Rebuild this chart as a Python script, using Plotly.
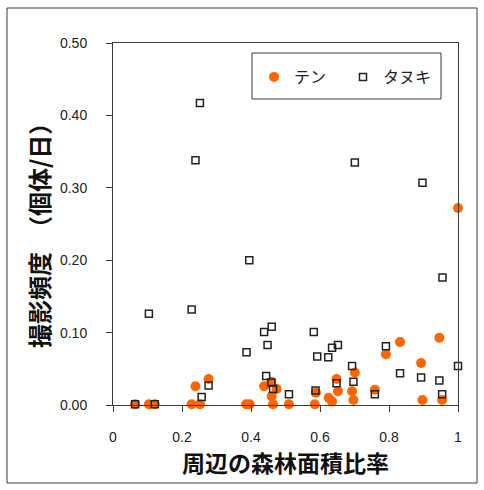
import plotly.graph_objects as go

# テン (marten): forest-area ratio vs. detection rate (individuals/day)
ten_x = [0.064, 0.104, 0.121, 0.228, 0.239, 0.252, 0.277, 0.386, 0.396, 0.438,
         0.459, 0.460, 0.464, 0.474, 0.510, 0.585, 0.588, 0.625, 0.635, 0.648,
         0.652, 0.693, 0.697, 0.701, 0.759, 0.791, 0.832, 0.893, 0.897, 0.946,
         0.954, 1.000]
ten_y = [0.001, 0.001, 0.001, 0.001, 0.026, 0.001, 0.036, 0.001, 0.001, 0.026,
         0.032, 0.012, 0.001, 0.022, 0.001, 0.001, 0.017, 0.010, 0.005, 0.036,
         0.019, 0.019, 0.007, 0.045, 0.021, 0.070, 0.087, 0.058, 0.007, 0.093,
         0.007, 0.272]

# タヌキ (raccoon dog)
tanuki_x = [0.064, 0.104, 0.121, 0.228, 0.239, 0.252, 0.257, 0.277, 0.387, 0.395,
            0.438, 0.444, 0.448, 0.459, 0.460, 0.464, 0.510, 0.582, 0.587, 0.592,
            0.624, 0.635, 0.648, 0.652, 0.693, 0.697, 0.701, 0.759, 0.791, 0.832,
            0.893, 0.897, 0.946, 0.954, 0.955, 1.000]
tanuki_y = [0.001, 0.126, 0.001, 0.132, 0.338, 0.417, 0.011, 0.027, 0.073, 0.200,
            0.101, 0.040, 0.083, 0.031, 0.108, 0.022, 0.015, 0.101, 0.020, 0.067,
            0.066, 0.079, 0.030, 0.083, 0.054, 0.032, 0.335, 0.015, 0.081, 0.044,
            0.038, 0.307, 0.034, 0.015, 0.176, 0.054]

x_ticks = [0, 0.2, 0.4, 0.6, 0.8, 1]
x_tick_text = ["0", "0.2", "0.4", "0.6", "0.8", "1"]
y_ticks = [0.0, 0.1, 0.2, 0.3, 0.4, 0.5]
y_tick_text = ["0.00", "0.10", "0.20", "0.30", "0.40", "0.50"]

JP = "Noto Sans CJK JP"
TICK_FONT = dict(family="Liberation Sans, Arial", size=14, color="#222")
TITLE_FONT = dict(family=JP, size=23, color="#111", weight="bold")
LINE = "#3a3a3a"

fig = go.Figure()
fig.add_trace(go.Scatter(
    x=ten_x, y=ten_y, mode="markers", name="テン", cliponaxis=False,
    marker=dict(symbol="circle", size=10, color="#FF6600", line=dict(width=0)),
))
fig.add_trace(go.Scatter(
    x=tanuki_x, y=tanuki_y, mode="markers", name="タヌキ", cliponaxis=False,
    marker=dict(symbol="square-open", size=7, color="#222",
                line=dict(width=1.5, color="#222")),
))

L, R, T, B = 113, 26, 43, 85
PW, PH = 484 - L - R, 490 - T - B


def px_x(p):
    return (p - L) / PW


def px_y(p):
    return (490 - B - p) / PH


fig.update_layout(
    width=484, height=490,
    margin=dict(l=L, r=R, t=T, b=B),
    paper_bgcolor="white", plot_bgcolor="white",
    showlegend=True,
    legend=dict(
        orientation="h", x=px_x(254), y=px_y(60), xanchor="left", yanchor="top",
        font=dict(family=JP, size=16, color="#222"),
        bgcolor="rgba(0,0,0,0)", borderwidth=0,
        entrywidth=44, entrywidthmode="pixels",
    ),
    xaxis=dict(
        range=[0, 1], tickvals=x_ticks, ticktext=x_tick_text,
        showgrid=False, zeroline=False,
        showline=True, linecolor=LINE, linewidth=1, mirror=True,
        ticks="outside", ticklen=6, tickcolor=LINE, ticklabelstandoff=13,
        tickfont=TICK_FONT,
        title=dict(text="周辺の森林面積比率", standoff=9, font=TITLE_FONT),
    ),
    yaxis=dict(
        range=[0, 0.5], tickvals=y_ticks, ticktext=y_tick_text,
        showgrid=False, zeroline=False,
        showline=True, linecolor=LINE, linewidth=1, mirror=True,
        ticks="outside", ticklen=6, tickcolor=LINE, ticklabelstandoff=16,
        tickfont=TICK_FONT,
    ),
    annotations=[
        # y-axis title, placed freely so it can sit a little below centre
        dict(text="撮影頻度　（個体/日）", xref="paper", yref="paper",
             x=px_x(38), y=px_y(230), xanchor="center", yanchor="middle",
             textangle=-90, showarrow=False,
             font=dict(family=JP, size=24, color="#111", weight="bold")),
    ],
    shapes=[
        # outer frame around the whole chart
        dict(type="rect", xref="paper", yref="paper",
             x0=px_x(7), x1=px_x(477), y0=px_y(483), y1=px_y(8),
             line=dict(color=LINE, width=1), fillcolor="rgba(0,0,0,0)", layer="below"),
        # legend box
        dict(type="rect", xref="paper", yref="paper",
             x0=px_x(252), x1=px_x(441), y0=px_y(99), y1=px_y(53),
             line=dict(color=LINE, width=1), fillcolor="white", layer="below"),
    ],
)

fig.write_html("out.html")
